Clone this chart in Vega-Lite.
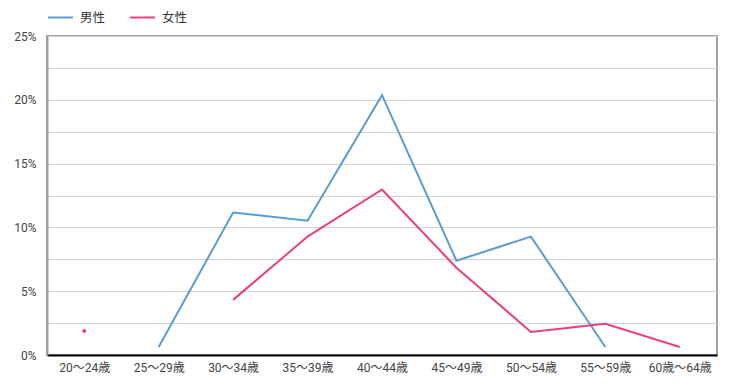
{
  "$schema": "https://vega.github.io/schema/vega-lite/v6.json",
  "autosize": "none",
  "width": 670,
  "height": 319,
  "padding": {"left": 47, "top": 36, "right": 12, "bottom": 34},
  "background": "white",
  "config": {
    "font": "Roboto, Noto Sans CJK JP, sans-serif",
    "view": {"stroke": "#a0a0a0", "strokeWidth": 2}
  },
  "data": {
    "values": [
      {"age": "20～24歳", "gender": "男性", "pct": null},
      {"age": "25～29歳", "gender": "男性", "pct": 0.63},
      {"age": "30～34歳", "gender": "男性", "pct": 11.16},
      {"age": "35～39歳", "gender": "男性", "pct": 10.53},
      {"age": "40～44歳", "gender": "男性", "pct": 20.36},
      {"age": "45～49歳", "gender": "男性", "pct": 7.39},
      {"age": "50～54歳", "gender": "男性", "pct": 9.28},
      {"age": "55～59歳", "gender": "男性", "pct": 0.63},
      {"age": "60歳～64歳", "gender": "男性", "pct": null},
      {"age": "20～24歳", "gender": "女性", "pct": 1.89},
      {"age": "25～29歳", "gender": "女性", "pct": null},
      {"age": "30～34歳", "gender": "女性", "pct": 4.32},
      {"age": "35～39歳", "gender": "女性", "pct": 9.28},
      {"age": "40～44歳", "gender": "女性", "pct": 12.97},
      {"age": "45～49歳", "gender": "女性", "pct": 6.84},
      {"age": "50～54歳", "gender": "女性", "pct": 1.81},
      {"age": "55～59歳", "gender": "女性", "pct": 2.44},
      {"age": "60歳～64歳", "gender": "女性", "pct": 0.63}
    ]
  },
  "encoding": {
    "x": {
      "field": "age", "type": "ordinal", "sort": null,
      "scale": {"type": "point", "padding": 0.5},
      "axis": {
        "title": null, "labelAngle": 0, "ticks": false,
        "domainColor": "#000000", "domainWidth": 2,
        "labelFontSize": 12, "labelColor": "#444444", "labelPadding": 7,
        "grid": false
      }
    },
    "y": {
      "field": "pct", "type": "quantitative",
      "scale": {"domain": [0, 25], "nice": false},
      "axis": {
        "title": null, "ticks": false,
        "values": [0, 2.5, 5, 7.5, 10, 12.5, 15, 17.5, 20, 22.5, 25],
        "labelExpr": "datum.value % 5 == 0 ? datum.value + '%' : ''",
        "domainColor": "#a0a0a0", "domainWidth": 2,
        "gridColor": "#d3d3d3", "gridWidth": 1,
        "labelFontSize": 12, "labelColor": "#444444", "labelPadding": 11
      }
    },
    "color": {
      "field": "gender", "type": "nominal",
      "scale": {"domain": ["男性", "女性"], "range": ["#5B9BD5", "#EC407A"]},
      "legend": {
        "title": null, "orient": "none", "direction": "horizontal",
        "legendX": 0, "legendY": -32,
        "symbolType": "stroke", "symbolSize": 625, "symbolStrokeWidth": 2,
        "labelFontSize": 12.5, "labelColor": "#333333", "labelOffset": 6,
        "columnPadding": 20
      }
    }
  },
  "layer": [
    {"mark": {"type": "line", "strokeWidth": 2}},
    {
      "transform": [{"filter": "datum.gender == '女性' && datum.age == '20～24歳'"}],
      "mark": {"type": "point", "filled": true, "size": 16, "opacity": 1}
    }
  ]
}
